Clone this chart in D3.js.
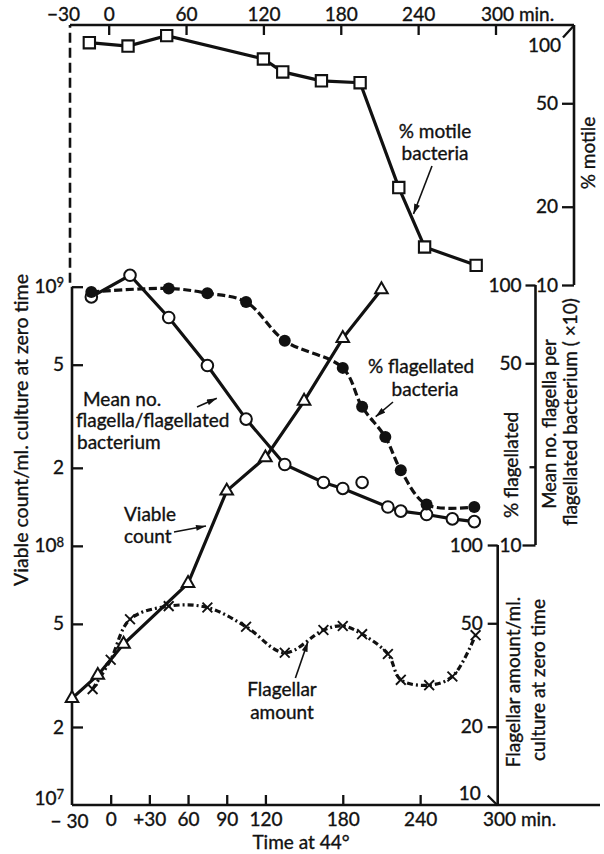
<!DOCTYPE html>
<html>
<head>
<meta charset="utf-8">
<script src="https://cdn.jsdelivr.net/npm/d3@7"></script>
<style>
  body { margin: 0; background: #fff; }
  text { font-family: Lato, "Open Sans", sans-serif; fill: #111; stroke: #111; stroke-width: 0.35px; }
</style>
</head>
<body>
<svg id="chart" width="604" height="854"></svg>
<script>
// % motile bacteria (squares, top panel)
const motileTime = [-15, 15, 45, 120, 135, 165, 195, 225, 245, 285];
const motilePct = [85.5, 83, 91, 74, 66, 61, 60, 23.7, 14, 11.9];

// % flagellated bacteria (filled circles)
const flagTime = [-15, 45, 75, 105, 135, 180, 195, 213, 225, 245, 282];
const flagPct = [94, 97, 93, 86, 61, 48, 34, 26, 19.4, 14.3, 14];

// mean no. flagella per flagellated bacterium x10 (open circles)
const meanTime = [-15, 15, 45, 75, 105, 135, 165, 180, 215, 225, 245, 265, 282];
const meanNo = [90, 109, 75, 49, 30.5, 20.4, 17.4, 16.5, 14, 13.5, 13.1, 12.6, 12.3];
const meanLoneTime = [195];
const meanLoneNo = [17.4];

// viable count per ml (triangles)
const viableTime = [-30, -10, 10, 60, 90, 120, 150, 180, 210];
const viableCount = [2.58e7, 3.17e7, 4.18e7, 7.17e7, 1.63e8, 2.19e8, 3.62e8, 6.32e8, 9.75e8];

// flagellar amount per ml (crosses)
const amountTime = [-14, 0, 15, 45, 75, 105, 135, 165, 180, 195, 215, 225, 247, 265, 283];
const amountVal = [27.9, 36.2, 51.8, 58.2, 57.5, 48.5, 38.5, 47.1, 48.8, 45.4, 38.1, 30.3, 28.9, 31.2, 45];

// tick values
const topTicks = [-30, 0, 60, 120, 180, 240, 300];
const bottomTicks = [-30, 0, 30, 60, 90, 120, 180, 240, 300];
const viableTicks = [1e7, 2e7, 5e7, 1e8, 2e8, 5e8, 1e9];
const pctTicks = [100, 50, 20, 10];

const svg = d3.select('#chart');
const ink = '#111';
const fs = 19;

const xB = d3.scaleLinear().domain([-30, 300]).range([72, 497.5]);
const xT = d3.scaleLinear().domain([-30, 300]).range([70, 495.5]);
const yMot = d3.scaleLog().domain([10, 100]).range([285, 25]);
const yViab = d3.scaleLog().domain([1e7, 1e9]).range([805, 286.7]);
const yFlag = d3.scaleLog().domain([10, 100]).range([545, 285]);
const yAmt = d3.scaleLog().domain([10, 100]).range([805, 545]);

const xMot = 574, xFl = 535.5, xAm = 497.7;

// frame lines
function seg(x1, y1, x2, y2, dash) {
	svg.append('line')
		.attr('x1', x1).attr('y1', y1).attr('x2', x2).attr('y2', y2)
		.attr('stroke', ink).attr('stroke-width', 2.6)
		.attr('stroke-dasharray', dash || null);
}
seg(xB(-30), yViab(1e7), 600, yViab(1e7));
seg(xB(-30), yViab(1e7), xB(-30), yViab(1e9));
seg(xT(-30), yViab(1e9) - 4, xT(-30), yMot(100), '10,5');
seg(xT(-30), yMot(100), xMot, yMot(100));
seg(xMot, yMot(100), xMot, yMot(10));
seg(xFl, yFlag(100), xFl, yFlag(10));
seg(xAm, yAmt(100), xAm, yAmt(10));

function styleAxis(g) {
	g.select('.domain').remove();
	g.selectAll('.tick line').attr('stroke', ink).attr('stroke-width', 2.3);
	g.selectAll('.tick text').style('font-size', fs + 'px').attr('fill', ink);
}

// top axis
const topAx = svg.append('g')
	.attr('transform', `translate(0,${yMot(100)})`)
	.call(d3.axisTop(xT).tickValues(topTicks).tickSizeInner(-10).tickPadding(4)
		.tickFormat(d => d < 0 ? '\u221230' : d))
	.call(styleAxis);
topAx.selectAll('.tick').filter(d => d === -30).select('line').remove();
topAx.selectAll('.tick').filter(d => d === -30).select('text').attr('x', -7);
topAx.selectAll('.tick').filter(d => d === 300).select('text')
	.attr('text-anchor', 'start').attr('x', -15).text('300 min.');

// bottom axis
const botAx = svg.append('g')
	.attr('transform', `translate(0,${yViab(1e7)})`)
	.call(d3.axisBottom(xB).tickValues(bottomTicks).tickSizeInner(-10).tickPadding(8)
		.tickFormat(d => d < 0 ? '\u2212 30' : d === 30 ? '+30' : d))
	.call(styleAxis);
botAx.selectAll('.tick').filter(d => d === -30).select('line').remove();
botAx.selectAll('.tick').filter(d => d === -30).select('text').attr('x', -3).attr('y', 10);
botAx.selectAll('.tick').filter(d => d === 300).select('line').remove();
botAx.selectAll('.tick').filter(d => d === 300).select('text')
	.attr('text-anchor', 'start').attr('x', -15).text('300 min.');

// left axis (viable count)
const leftAx = svg.append('g')
	.attr('transform', `translate(${xB(-30)},0)`)
	.call(d3.axisLeft(yViab).tickValues(viableTicks).tickSizeInner(-11).tickPadding(8)
		.tickFormat(d => String(d).charAt(0)))
	.call(styleAxis);
leftAx.selectAll('.tick text').each(function(d) {
	const e = Math.round(Math.log10(d));
	if (Math.abs(Math.log10(d) - e) < 1e-9) {
		const t = d3.select(this).text('10');
		t.append('tspan').attr('dy', '-0.45em').style('font-size', '13px').text(e);
	}
});
leftAx.selectAll('.tick').filter(d => d === 1e7).select('line').remove();
leftAx.selectAll('.tick').filter(d => d === 1e7).select('text').attr('y', -7);

// % motile axis
const motAx = svg.append('g')
	.attr('transform', `translate(${xMot},0)`)
	.call(d3.axisLeft(yMot).tickValues(pctTicks).tickSize(12).tickPadding(4).tickFormat(d3.format('d')))
	.call(styleAxis);
motAx.selectAll('.tick').filter(d => d === 100).select('line')
	.attr('x2', -11).attr('y2', 12);
motAx.selectAll('.tick').filter(d => d === 100).select('text')
	.attr('x', -13).attr('y', 20);

// % flagellated / mean no. axis
const flAx = svg.append('g')
	.attr('transform', `translate(${xFl},0)`)
	.call(d3.axisLeft(yFlag).tickValues(pctTicks).tickSize(10).tickPadding(4)
		.tickFormat(d => d === 20 ? '' : d))
	.call(styleAxis);
flAx.selectAll('.tick').filter(d => d === 20).select('line').attr('x2', -6);
flAx.selectAll('.tick').filter(d => d === 10).select('line').attr('x2', -13);

// flagellar amount axis
const amAx = svg.append('g')
	.attr('transform', `translate(${xAm},0)`)
	.call(d3.axisLeft(yAmt).tickValues(pctTicks).tickSize(10).tickPadding(5).tickFormat(d3.format('d')))
	.call(styleAxis);
amAx.selectAll('.tick').filter(d => d === 10).select('line')
	.attr('x2', -10).attr('y2', -10);
amAx.selectAll('.tick').filter(d => d === 10).select('text')
	.attr('x', -17).attr('y', -12);

// axis titles
function label(x, y, txt, size, rot, anchor) {
	svg.append('text')
		.attr('transform', `translate(${x},${y})` + (rot ? ` rotate(${rot})` : ''))
		.attr('text-anchor', anchor || 'middle')
		.attr('dy', rot ? '0.35em' : null)
		.style('font-size', size + 'px')
		.text(txt);
}
label(21, 430, 'Viable count/ml. culture at zero time', 19.5, -90);
label(301, 849, 'Time at 44\u00b0', fs);
label(588, 153, '% motile', fs, -90);
label(511.7, 465, '% flagellated', fs, -90);
label(550, 424, 'Mean no. flagella per', 18.5, -90);
label(570, 412, 'flagellated bacterium ( \u00d710)', 19, -90);
label(513.3, 682, 'Flagellar amount/ml.', fs, -90);
label(538.3, 680, 'culture at zero time', fs, -90);

// series lines
function drawLine(xs, ys, ts, vs, dash, curve) {
	const pts = ts.map((t, i) => [xs(t), ys(vs[i])]);
	svg.append('path')
		.attr('d', d3.line().curve(curve || d3.curveLinear)(pts))
		.attr('fill', 'none').attr('stroke', ink).attr('stroke-width', 3.2)
		.attr('stroke-dasharray', dash || null);
}
drawLine(xT, yMot, motileTime, motilePct);
drawLine(xB, yFlag, flagTime, flagPct, '8,3.5', d3.curveCatmullRom);
drawLine(xB, yFlag, meanTime, meanNo);
drawLine(xB, yViab, viableTime, viableCount);
drawLine(xB, yAmt, amountTime, amountVal, '6,3,2,3', d3.curveCatmullRom);

// markers
svg.append('g').selectAll('path')
	.data(motileTime.map((t, i) => [xT(t), yMot(motilePct[i])]))
	.join('path')
	.attr('transform', d => `translate(${d[0]},${d[1]})`)
	.attr('d', d3.symbol(d3.symbolSquare, 128)())
	.attr('fill', '#fff').attr('stroke', ink).attr('stroke-width', 2.1);

svg.append('g').selectAll('path')
	.data(viableTime.map((t, i) => [xB(t), yViab(viableCount[i])]))
	.join('path')
	.attr('transform', d => `translate(${d[0]},${d[1]})`)
	.attr('d', d3.symbol(d3.symbolTriangle, 68)())
	.attr('fill', '#fff').attr('stroke', ink).attr('stroke-width', 2);

svg.append('g').selectAll('circle')
	.data(meanTime.map((t, i) => [xB(t), yFlag(meanNo[i])])
		.concat(meanLoneTime.map((t, i) => [xB(t), yFlag(meanLoneNo[i])])))
	.join('circle')
	.attr('cx', d => d[0]).attr('cy', d => d[1]).attr('r', 5.8)
	.attr('fill', '#fff').attr('stroke', ink).attr('stroke-width', 2);

svg.append('g').selectAll('circle')
	.data(flagTime.map((t, i) => [xB(t), yFlag(flagPct[i])]))
	.join('circle')
	.attr('cx', d => d[0]).attr('cy', d => d[1]).attr('r', 6)
	.attr('fill', ink);

svg.append('g').selectAll('path')
	.data(amountTime.map((t, i) => [xB(t), yAmt(amountVal[i])]))
	.join('path')
	.attr('transform', d => `translate(${d[0]},${d[1]})`)
	.attr('d', d3.symbol(d3.symbolTimes, 64)())
	.attr('fill', 'none').attr('stroke', ink).attr('stroke-width', 1.9);

// annotations with arrows
svg.append('defs').append('marker')
	.attr('id', 'arr').attr('viewBox', '0 0 10 6')
	.attr('refX', 10).attr('refY', 3)
	.attr('markerWidth', 11).attr('markerHeight', 6)
	.attr('markerUnits', 'userSpaceOnUse').attr('orient', 'auto')
	.append('path').attr('d', 'M0,0L10,3L0,6z').attr('fill', ink);

function arrow(x1, y1, x2, y2) {
	svg.append('line')
		.attr('x1', x1).attr('y1', y1).attr('x2', x2).attr('y2', y2)
		.attr('stroke', ink).attr('stroke-width', 1.6)
		.attr('marker-end', 'url(#arr)');
}
label(435, 138, '% motile', fs);
label(435, 160, 'bacteria', fs);
arrow(432, 166, 413.5, 214);

label(421, 373, '% flagellated', fs);
label(425, 396, 'bacteria', fs);
arrow(393, 402, 375.7, 416.7);

label(83, 406, 'Mean no.', fs, 0, 'start');
label(76, 427, 'flagella/flagellated', fs, 0, 'start');
label(77, 449, 'bacterium', fs, 0, 'start');
arrow(197, 407, 216.8, 398.3);

label(124, 521, 'Viable', fs, 0, 'start');
label(124, 543, 'count', fs, 0, 'start');
arrow(174, 532, 206, 526);

label(282, 696, 'Flagellar', fs);
label(282, 719, 'amount', fs);
arrow(295.4, 678, 307.9, 641.7);
</script>
</body>
</html>
